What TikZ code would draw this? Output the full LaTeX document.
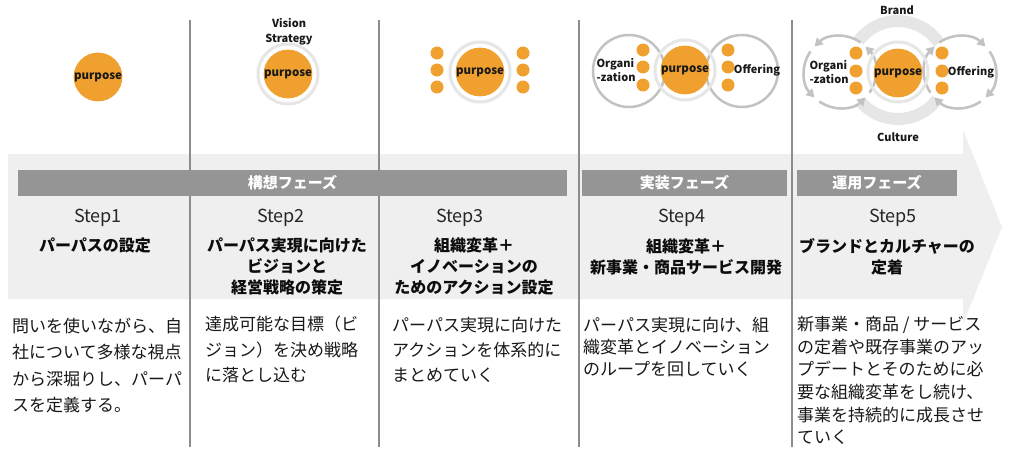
\documentclass[tikz,border=0pt]{standalone}
\usepackage{fontspec}
\setmainfont{Noto Sans CJK JP}
\usetikzlibrary{arrows.meta}
\definecolor{org}{HTML}{F0A02E}
\definecolor{band}{HTML}{EFEFEF}
\definecolor{bar}{HTML}{959595}
\definecolor{sep}{HTML}{8C8C8C}
\definecolor{rng}{HTML}{C2C2C2}
\definecolor{halo}{HTML}{E6E6E6}
\begin{document}
\begin{tikzpicture}[x=1pt,y=-1pt]
  %
  \tikzstyle{pu} = [circle, fill=org, minimum size=45pt, inner sep=0pt, font=\fontsize{11.5}{12}\selectfont\bfseries, text=black!90]
  \tikzstyle{dt} = [circle, fill=org, minimum size=13pt, inner sep=0pt]
  \tikzstyle{hl} = [circle, draw=halo, line width=3pt, minimum size=60pt, inner sep=0pt]
  \tikzstyle{rg} = [circle, draw=rng, line width=2.5pt, fill=white, minimum size=72pt, inner sep=0pt]
  \tikzstyle{lb} = [font=\fontsize{11}{14}\selectfont\bfseries, align=left, inner sep=0pt, text=black!90]
  \tikzstyle{ph} = [fill=bar, text=white, minimum height=26pt, inner sep=0pt, font=\fontsize{15}{16}\selectfont\bfseries]
  \tikzstyle{sl} = [text=black!85, inner sep=0pt, font=\fontsize{18}{19}\selectfont]
  \tikzstyle{tt} = [align=center, inner sep=0pt, text=black!95, font=\fontsize{16}{21}\selectfont\bfseries]
  \tikzstyle{ds} = [anchor=west, align=left, inner sep=0pt, text=black!90]
  \useasboundingbox (0,0) rectangle (1021,466);
  \fill[white] (0,0) rectangle (1021,466);
  % band arrow
  \fill[band] (8,154) -- (963,154) -- (963,130) -- (1002,227) -- (963,324) -- (963,299) -- (8,299) -- cycle;
  \foreach \x in {190,379,579,792}
    \draw[sep, line width=1.2pt] (\x,20) -- (\x,447);
  % phases
  \node[ph, minimum width=549pt] (ph1) at (292.5,183) {構想フェーズ};
  \node[ph, minimum width=205pt] (ph2) at (684.5,183) {実装フェーズ};
  \node[ph, minimum width=160pt] (ph3) at (877,183) {運用フェーズ};
  % steps
  \node[sl] (s1) at (98,218) {Step1};
  \node[sl] (s2) at (281,218) {Step2};
  \node[sl] (s3) at (460,218) {Step3};
  \node[sl] (s4) at (682,218) {Step4};
  \node[sl] (s5) at (893,218) {Step5};
  \node[tt] (t1) at (95,245) {パーパスの設定};
  \node[tt] (t2) at (287,266) {パーパス実現に向けた\\ビジョンと\\経営戦略の策定};
  \node[tt] (t3) at (474,266) {組織変革＋\\イノベーションの\\ためのアクション設定};
  \node[tt] (t4) at (686,257) {組織変革＋\\新事業・商品サービス開発};
  \node[tt] (t5) at (887,257) {ブランドとカルチャーの\\定着};
  % texts
  \node[ds, font=\fontsize{17}{26.5}\selectfont] (d1) at (12,365.5) {問いを使いながら、自\\社について多様な視点\\から深堀りし、パーパ\\スを定義する。};
  \node[ds, font=\fontsize{17}{25.5}\selectfont] (d2) at (205,349.5) {達成可能な目標（ビ\\ジョン）を決め戦略\\に落とし込む};
  \node[ds, font=\fontsize{17}{25}\selectfont] (d3) at (392,350) {パーパス実現に向けた\\アクションを体系的に\\まとめていく};
  \node[ds, font=\fontsize{17}{22}\selectfont] (d4) at (583,347.5) {パーパス実現に向け、組\\織変革とイノベーション\\のループを回していく};
  \node[ds, font=\fontsize{17}{22.6}\selectfont] (d5) at (797,380.5) {新事業・商品 / サービス\\の定着や既存事業のアッ\\プデートとそのために必\\要な組織変革をし続け、\\事業を持続的に成長させ\\ていく};
  % step1
  \node[pu] (p1) at (98,77) {purpose};
  % step2
  \node[hl] (h2) at (288,74) {};
  \node[pu] (p2) at (288,74) {purpose};
  \node[lb, align=center, font=\fontsize{11}{15}\selectfont\bfseries] (vs) at (289,31.5) {Vision\\Strategy};
  % step3
  \node[hl] (h3) at (480,72) {};
  \node[pu] (p3) at (480,72) {purpose};
  \foreach \y [count=\i] in {53,70,87} {
    \node[dt] (a\i) at (437,\y) {};
    \node[dt] (b\i) at (523,\y) {};
  }
  % step4
  \node[rg] (o4) at (629,71) {};
  \node[rg] (f4) at (742,71) {};
  \node[hl] (h4) at (685,70) {};
  \node[pu] (p4) at (685,70) {purpose};
  \foreach \y [count=\i] in {50,67,85} {
    \node[dt] (c\i) at (643,\y) {};
    \node[dt] (e\i) at (728,\y) {};
  }
  \node[lb] (og4) at (616,70) {Organi\\-zation};
  \node[lb] (of4) at (757,70) {Offering};
  % step5
  \draw[halo, line width=12pt] (898,70) circle[radius=49];
  \node[circle, fill=white, minimum size=72pt, inner sep=0pt] (l5) at (840,72) {};
  \node[circle, fill=white, minimum size=72pt, inner sep=0pt] (r5) at (960,72) {};
  \foreach \a in {-55,-145,-235,-325}
    \draw[rng, line width=2.5pt, -{Triangle[length=8pt,width=9pt]}] (l5.center) ++(\a:36) arc[start angle=\a, end angle=\a-80, radius=36];
  \foreach \a in {-125,-35,55,145}
    \draw[rng, line width=2.5pt, -{Triangle[length=8pt,width=9pt]}] (r5.center) ++(\a:36) arc[start angle=\a, end angle=\a+80, radius=36];
  \node[hl] (h5) at (898,72) {};
  \node[pu] (p5) at (898,73) {purpose};
  \foreach \y [count=\i] in {53,71,88} {
    \node[dt] (g\i) at (856,\y) {};
    \node[dt] (k\i) at (942,\y) {};
  }
  \node[lb] (og5) at (829,72) {Organi\\-zation};
  \node[lb] (of5) at (971,72) {Offering};
  \node[lb] (br) at (897,10) {Brand};
  \node[lb] (cu) at (898,137) {Culture};
\end{tikzpicture}
\end{document}
